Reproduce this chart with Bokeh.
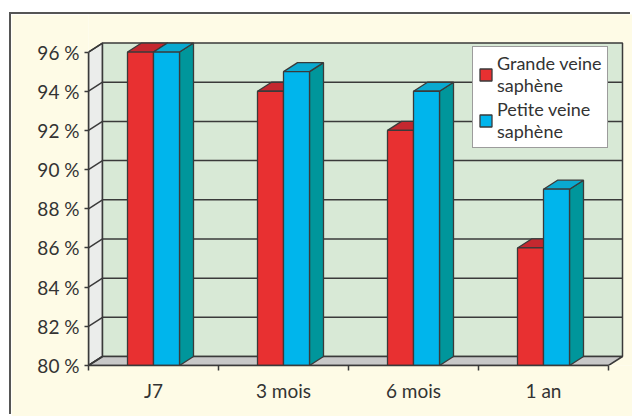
from bokeh.plotting import figure
from bokeh.models import Range1d, LinearAxis, FixedTicker, Legend, LegendItem, ColumnDataSource
from bokeh.embed import file_html
from bokeh.resources import INLINE

categories = ["J7", "3 mois", "6 mois", "1 an"]
grande_veine = [96, 94, 92, 86]
petite_veine = [96, 95, 94, 89]
series_labels = ["Grande veine\nsaphène", "Petite veine\nsaphène"]
y_ticks = [80, 82, 84, 86, 88, 90, 92, 94, 96]
y_tick_labels = ["80 %", "82 %", "84 %", "86 %", "88 %", "90 %", "92 %", "94 %", "96 %"]

# style constants
BASE, TOP = 80, 96
PX_X, PX_Y = 130.0, 19.59
DX, DY = 14 / PX_X, 9 / PX_Y
BW = 0.2
LINE = "#3a3a3a"
CREAM = "#FEFBE6"
FONT = "Lato"

FW, FH = 544, 351
p = figure(width=621, height=402, output_backend="svg", toolbar_location=None,
           x_range=Range1d(0, FW / PX_X), y_range=Range1d(BASE, BASE + FH / PX_Y),
           x_axis_type=None, y_axis_type=None,
           min_border_left=77, min_border_right=0, min_border_top=0, min_border_bottom=51)
p.margin = (14, 0, 0, 11)
p.styles = {"box-shadow": "-2px -2px 0 0 #555555"}
p.background_fill_color = CREAM
p.border_fill_color = CREAM
p.outline_line_color = None
p.grid.visible = False

n = len(categories)
# walls
p.patch([0, 0, DX, DX], [BASE, TOP, TOP + DY, BASE + DY], fill_color="#EBEDEB", line_color=LINE, line_width=1.5)
p.quad(left=[DX], right=[n + DX], bottom=[BASE + DY], top=[TOP + DY], fill_color="#D8E9D6", line_color=LINE, line_width=1.5)
p.patch([0, n, n + DX, DX], [BASE, BASE, BASE + DY, BASE + DY], fill_color="#C8C8C8", line_color=LINE, line_width=1.5)
inner = y_ticks[1:-1]
p.segment(x0=[DX] * len(inner), x1=[n + DX] * len(inner), y0=[v + DY for v in inner], y1=[v + DY for v in inner],
          line_color=LINE, line_width=1.5)
p.segment(x0=[0] * len(y_ticks), x1=[DX] * len(y_ticks), y0=y_ticks, y1=[v + DY for v in y_ticks],
          line_color=LINE, line_width=1.5)

def bars(values, offset, front, topc, side):
    lefts = [i + 0.5 + offset for i in range(n)]
    rights = [l + BW for l in lefts]
    side_src = ColumnDataSource(dict(
        xs=[[r, r + DX, r + DX, r] for r in rights],
        ys=[[BASE, BASE + DY, v + DY, v] for v in values]))
    top_src = ColumnDataSource(dict(
        xs=[[l, r, r + DX, l + DX] for l, r in zip(lefts, rights)],
        ys=[[v, v, v + DY, v + DY] for v in values]))
    p.patches("xs", "ys", source=side_src, fill_color=side, line_color=LINE, line_width=1.3)
    p.patches("xs", "ys", source=top_src, fill_color=topc, line_color=LINE, line_width=1.3)
    return p.quad(left=lefts, right=rights, bottom=[BASE] * n, top=values,
                  fill_color=front, line_color=LINE, line_width=1.3)

r_red = bars(grande_veine, -BW, "#E83031", "#C4282F", "#9E1F24")
r_blue = bars(petite_veine, 0.0, "#00B5EC", "#0AA9D0", "#00969B")

# axes
yaxis = LinearAxis(bounds=(BASE, TOP), ticker=FixedTicker(ticks=y_ticks, minor_ticks=[]),
                   major_label_overrides={t: l for t, l in zip(y_ticks, y_tick_labels)},
                   major_tick_out=4, major_tick_in=0, minor_tick_line_color=None,
                   axis_line_color=LINE, axis_line_width=1.5, major_tick_line_color=LINE,
                   major_tick_line_width=1.5, major_label_standoff=5,
                   major_label_text_font=FONT, major_label_text_font_size="19px",
                   major_label_text_color="#333333")
p.add_layout(yaxis, "left")
centers = [i + 0.5 for i in range(n)]
xaxis = LinearAxis(bounds=(0, n), ticker=FixedTicker(ticks=centers, minor_ticks=list(range(n + 1))),
                   major_label_overrides={c: l for c, l in zip(centers, categories)},
                   major_tick_out=0, major_tick_in=0, major_tick_line_color=None,
                   minor_tick_out=5, minor_tick_in=0, minor_tick_line_color=LINE, minor_tick_line_width=1.5,
                   axis_line_color=LINE, axis_line_width=1.5, major_label_standoff=8,
                   major_label_text_font=FONT, major_label_text_font_size="19px",
                   major_label_text_color="#333333")
p.add_layout(xaxis, "below")

legend = Legend(items=[LegendItem(label=series_labels[0], renderers=[r_red]),
                       LegendItem(label=series_labels[1], renderers=[r_blue])],
                location=(384, 217), border_line_color=LINE, border_line_width=1.5,
                background_fill_color="white", background_fill_alpha=1.0,
                label_text_font=FONT, label_text_font_size="18px", label_text_color="#333333",
                glyph_width=15, glyph_height=15, padding=5, spacing=2, label_standoff=4, margin=0,
                label_text_line_height=0.95)
p.add_layout(legend, "center")

open("out.html", "w").write(file_html(p, INLINE))
